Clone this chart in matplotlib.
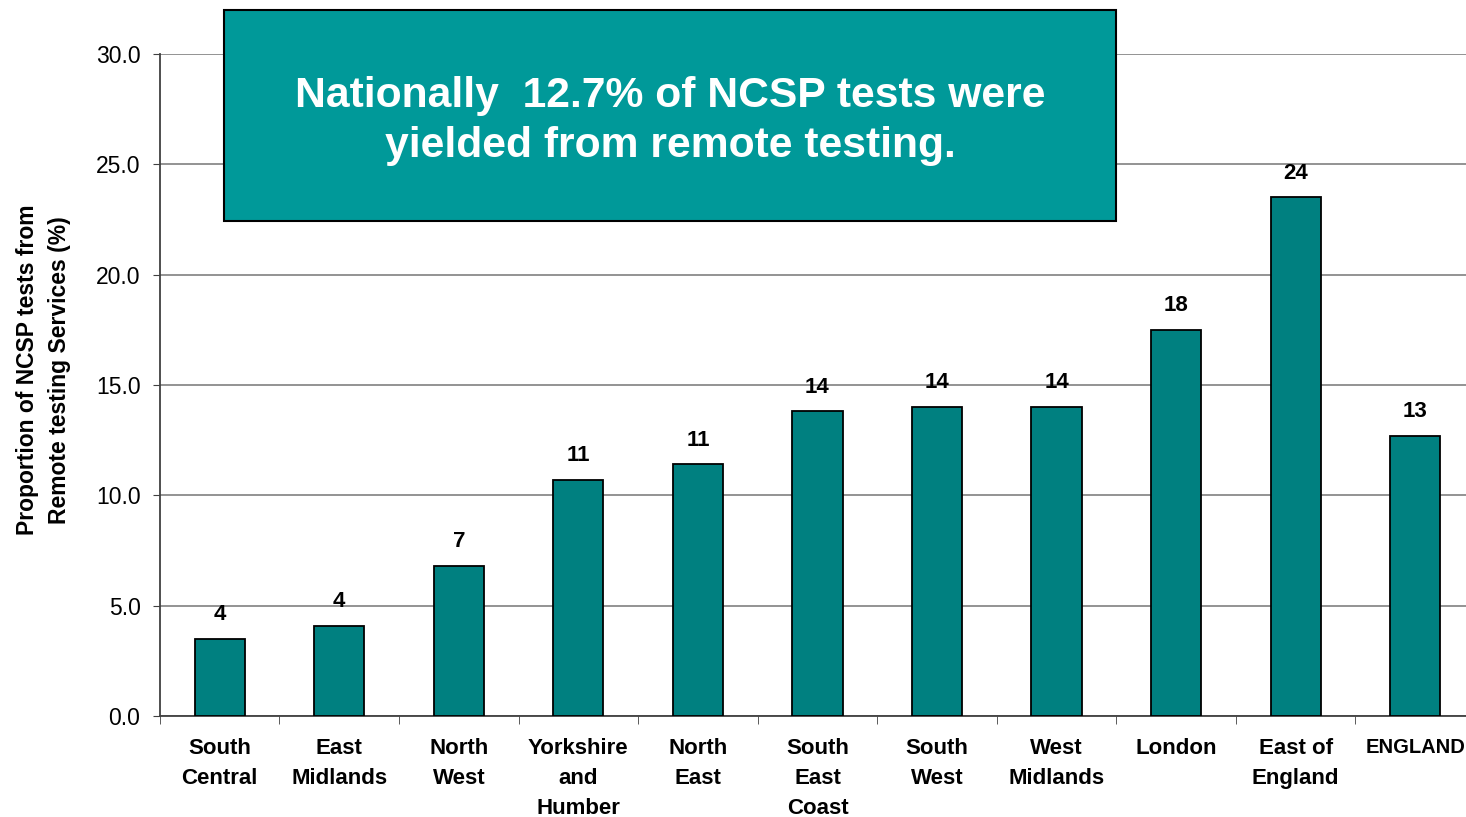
import matplotlib.pyplot as plt
from matplotlib.patches import Rectangle
from matplotlib.ticker import FixedLocator, NullFormatter

plt.rcParams['font.family'] = ['Liberation Sans', 'DejaVu Sans']

# data
regions = ['South\nCentral', 'East\nMidlands', 'North\nWest', 'Yorkshire\nand\nHumber',
           'North\nEast', 'South\nEast\nCoast', 'South\nWest', 'West\nMidlands',
           'London', 'East of\nEngland', 'ENGLAND']
values = [3.5, 4.1, 6.8, 10.7, 11.4, 13.8, 14.0, 14.0, 17.5, 23.5, 12.7]
bar_labels = ['4', '4', '7', '11', '11', '14', '14', '14', '18', '24', '13']
yticks = [0, 5, 10, 15, 20, 25, 30]

BAR_COLOR = '#008080'
BOX_COLOR = '#009999'

fig = plt.figure(figsize=(14.66, 8.17), dpi=100)
ax = fig.add_axes([0.1091, 0.1236, 0.897, 0.8103])

x = list(range(len(regions)))
ax.bar(x, values, width=0.42, color=BAR_COLOR, edgecolor='black', linewidth=1.3, zorder=3)

for xi, v, lab in zip(x, values, bar_labels):
    ax.annotate(lab, (xi, v), xytext=(0, 13.5), textcoords='offset points',
                ha='center', va='baseline', fontsize=16, fontweight='bold')

ax.set_xlim(-0.5, len(regions) - 0.5)
ax.set_ylim(0, 30)
ax.set_yticks(yticks)
ax.set_yticklabels([f'{t:.1f}' for t in yticks], fontsize=16.5)
ax.yaxis.grid(True, color='#808080', linewidth=1.2, zorder=0)
ax.set_axisbelow(True)

ax.set_xticks(x)
ax.set_xticklabels(regions, fontsize=16, fontweight='bold', linespacing=1.55, va='top')
# last label is squeezed against the right edge, as in the original
ax.get_xticklabels()[-1].set_fontsize(14.5)
ax.tick_params(axis='x', which='major', length=0, pad=16)
ax.xaxis.set_minor_locator(FixedLocator([i - 0.5 for i in range(len(regions) + 1)]))
ax.xaxis.set_minor_formatter(NullFormatter())
ax.tick_params(axis='x', which='minor', length=6, color='#404040')
ax.tick_params(axis='y', length=5, color='#404040', pad=9)

for side in ['top', 'right']:
    ax.spines[side].set_visible(False)
ax.spines['left'].set_color('#404040')
ax.spines['bottom'].set_color('#404040')
ax.spines['left'].set_linewidth(1.3)
ax.spines['bottom'].set_linewidth(1.3)

ax.set_ylabel('Proportion of NCSP tests from\nRemote testing Services (%)',
              fontsize=16.5, fontweight='bold', linespacing=1.5)
ax.yaxis.set_label_coords(-0.068, 0.523)

# callout box
box = Rectangle((0.1528, 0.7295), 0.6085, 0.2583, transform=fig.transFigure,
                facecolor=BOX_COLOR, edgecolor='black', linewidth=1.5, zorder=5)
fig.patches.append(box)
fig.text(0.4573, 0.852, 'Nationally  12.7% of NCSP tests were\nyielded from remote testing.',
         ha='center', va='center', color='white', fontsize=30.7, fontweight='bold',
         linespacing=1.32, zorder=6)

fig.savefig('out.png', dpi=100)
